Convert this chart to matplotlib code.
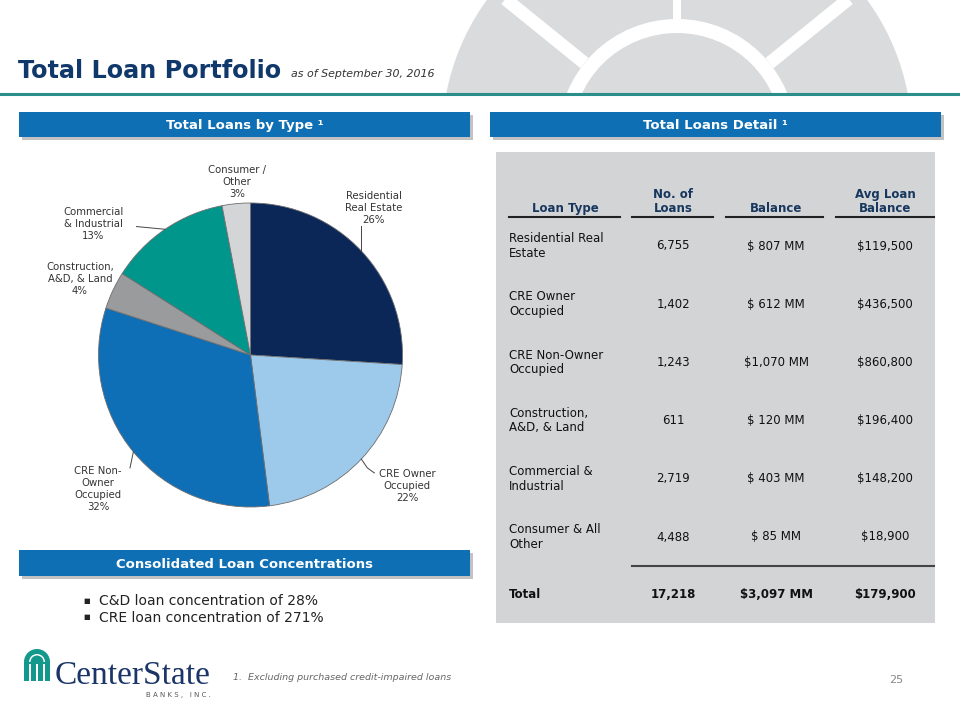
import numpy as np
import matplotlib
matplotlib.use("Agg")
import matplotlib.pyplot as plt
import matplotlib.patches as mpatches

# pie data (share of total loans, %)
pie_labels = ["Residential\nReal Estate", "CRE Owner\nOccupied", "CRE Non-\nOwner\nOccupied",
              "Construction,\nA&D, & Land", "Commercial\n& Industrial", "Consumer /\nOther"]
pie_pct = [26, 22, 32, 4, 13, 3]
pie_colors = ["#0B2757", "#9DC9EB", "#0E6EB6", "#9A9B9D", "#00968B", "#D4D5D7"]

# table data
loan_types = ["Residential Real\nEstate", "CRE Owner\nOccupied", "CRE Non-Owner\nOccupied",
              "Construction,\nA&D, & Land", "Commercial &\nIndustrial", "Consumer & All\nOther"]
num_loans = [6755, 1402, 1243, 611, 2719, 4488]
balance_mm = [807, 612, 1070, 120, 403, 85]
avg_balance = [119500, 436500, 860800, 196400, 148200, 18900]
total_loans = 17218
total_balance = 3097
total_avg = 179900

bullets = ["C&D loan concentration of 28%", "CRE loan concentration of 271%"]

NAVY = "#10386B"
BLUE = "#0F6FB5"
TEAL = "#2A8F8A"


def fmt_bal(v):
    s = "${:,}".format(v) if v >= 1000 else "$ {}".format(v)
    return s + " MM"


fig = plt.figure(figsize=(9.6, 7.2), dpi=100)
bg = fig.add_axes([0, 0, 1, 1])
bg.set_xlim(0, 960)
bg.set_ylim(720, 0)
bg.axis("off")

# background window graphic, clipped above the teal rule
clip = mpatches.Rectangle((0, 0), 960, 94, transform=bg.transData)
cx, cy = 677, 138
outer = mpatches.Circle((cx, cy), 235, color="#DADBDC", lw=0)
ring = mpatches.Circle((cx, cy), 112, fill=False, ec="white", lw=14 * 0.72)
bg.add_patch(outer)
bg.add_patch(ring)
outer.set_clip_path(clip)
ring.set_clip_path(clip)
for ang in [39, 90, 141]:
    a = np.deg2rad(ang)
    ln, = bg.plot([cx + 119 * np.cos(a), cx + 260 * np.cos(a)],
                  [cy - 119 * np.sin(a), cy - 260 * np.sin(a)],
                  color="white", lw=(8 if ang == 90 else 13) * 0.72, solid_capstyle="butt")
    ln.set_clip_path(clip)

bg.plot([0, 960], [94, 94], color=TEAL, lw=2.2)

# title
bg.text(18, 78, "Total Loan Portfolio", fontsize=17.2, fontweight="bold", color=NAVY,
        family="DejaVu Sans")
bg.text(291, 77, "as of September 30, 2016", fontsize=7.9, style="italic", color="#333333")


def header(x0, y0, w, h, text):
    bg.add_patch(mpatches.Rectangle((x0 + 3, y0 + 3), w, h, color="#9A9A9A", alpha=0.6, lw=0))
    bg.add_patch(mpatches.Rectangle((x0, y0), w, h, color=BLUE, lw=0))
    bg.text(x0 + w / 2, y0 + h / 2 + 1, text, color="white", fontsize=9.5, fontweight="bold",
            ha="center", va="center")


header(19, 112, 451, 25, "Total Loans by Type ¹")
header(490, 112, 451, 25, "Total Loans Detail ¹")
header(19, 550, 451, 26, "Consolidated Loan Concentrations")

# pie chart: radius 1 -> 152 px, centre at (250.5, 355)
R = 152.0
L = 1.6
pc_x, pc_y = 250.5, 355
pax = fig.add_axes([(pc_x - L * R) / 960, (720 - pc_y - L * R) / 720, 2 * L * R / 960, 2 * L * R / 720])
wedges, _ = pax.pie(pie_pct, colors=pie_colors, startangle=90, counterclock=False,
                    wedgeprops=dict(edgecolor="#6E6E6E", linewidth=0.6))
pax.set_xlim(-L, L)
pax.set_ylim(-L, L)
pax.set_aspect("equal")
pax.axis("off")

label_pos = [(0.812, 0.967), (1.03, -0.862), (-1.003, -0.882),
             (-1.122, 0.50), (-1.036, 0.862), (-0.089, 1.138)]
for w, lab, pct, (lx, ly) in zip(wedges, pie_labels, pie_pct, label_pos):
    mid = np.deg2rad((w.theta1 + w.theta2) / 2)
    ex, ey = np.cos(mid), np.sin(mid)
    pax.text(lx, ly, "{}\n{}%".format(lab, pct), ha="center", va="center", fontsize=7.3,
             color="#333333", linespacing=1.25)
    if lab.startswith("Residential"):
        pax.plot([ex, ex], [ey, 0.85], color="#444444", lw=0.7)
    elif lab.startswith("Commercial"):
        pax.plot([ex, -0.75], [ey, 0.845], color="#444444", lw=0.7)
    elif lab.startswith("CRE Owner"):
        pax.plot([ex, ex + 0.04, 0.815], [ey, -0.743, -0.776], color="#444444", lw=0.7)
    elif lab.startswith("CRE Non"):
        pax.plot([ex, -0.793], [ey, -0.743], color="#444444", lw=0.7)

# bullets
for i, b in enumerate(bullets):
    y = 601 + i * 16.5
    bg.text(83, y, "■", fontsize=5, color="#222222", va="center")
    bg.text(99, y, b, fontsize=10, color="#222222", va="center")

# table
bg.add_patch(mpatches.Rectangle((496, 152), 439, 471, color="#D3D4D6", lw=0))
HC = "#17375E"
FS = 8.5
col_x = [565, 673, 776, 885]
hdrs = ["Loan Type", "No. of\nLoans", "Balance", "Avg Loan\nBalance"]
for x, h in zip(col_x, hdrs):
    bg.text(x, 215, h, ha="center", va="bottom", fontsize=FS, fontweight="bold", color=HC,
            linespacing=1.1)
for x0, x1 in [(509, 620), (632, 713), (726, 823), (836, 934)]:
    bg.plot([x0, x1], [216.5, 216.5], color="#222222", lw=1.5)

row_y = 246 + np.arange(len(loan_types)) * 58.2
for y, lt, n, b, a in zip(row_y, loan_types, num_loans, balance_mm, avg_balance):
    bg.text(509, y, lt, ha="left", va="center", fontsize=FS, color="#111111", linespacing=1.15)
    bg.text(col_x[1], y, "{:,}".format(n), ha="center", va="center", fontsize=FS, color="#111111")
    bg.text(col_x[2], y, fmt_bal(b), ha="center", va="center", fontsize=FS, color="#111111")
    bg.text(col_x[3], y, "${:,}".format(a), ha="center", va="center", fontsize=FS, color="#111111")

bg.plot([632, 934], [566, 566], color="#444444", lw=1.5)
ty = 595
bg.text(509, ty, "Total", ha="left", va="center", fontsize=FS, fontweight="bold", color="#111111")
bg.text(col_x[1], ty, "{:,}".format(total_loans), ha="center", va="center", fontsize=FS,
        fontweight="bold", color="#111111")
bg.text(col_x[2], ty, fmt_bal(total_balance), ha="center", va="center", fontsize=FS,
        fontweight="bold", color="#111111")
bg.text(col_x[3], ty, "${:,}".format(total_avg), ha="center", va="center", fontsize=FS,
        fontweight="bold", color="#111111")

# logo
LT = "#12998C"
bg.add_patch(mpatches.Rectangle((24, 662), 26, 19, color=LT, lw=0))
bg.add_patch(mpatches.Wedge((37, 662), 13, 180, 360, color=LT, lw=0))
bg.add_patch(mpatches.Wedge((37, 662), 8, 180, 360, color="white", lw=0))
bg.add_patch(mpatches.Wedge((37, 662), 6.5, 180, 360, color=LT, lw=0))
bg.add_patch(mpatches.Rectangle((29, 664), 16, 17, color="white", lw=0))
bg.add_patch(mpatches.Rectangle((31, 664), 12, 17, color=LT, lw=0))
bg.add_patch(mpatches.Rectangle((36, 664), 2, 17, color="white", lw=0))
bg.text(55, 684, "CenterState", fontsize=24, family="Liberation Serif", color="#1B3568")
bg.text(146, 697, "B A N K S ,   I N C .", fontsize=5, color="#555555")

bg.text(233, 678, "1.  Excluding purchased credit-impaired loans", fontsize=6.8, style="italic",
        color="#666666", va="center")
bg.text(896, 680, "25", fontsize=8, color="#888888", ha="center", va="center")

fig.savefig("out.png", dpi=100)
